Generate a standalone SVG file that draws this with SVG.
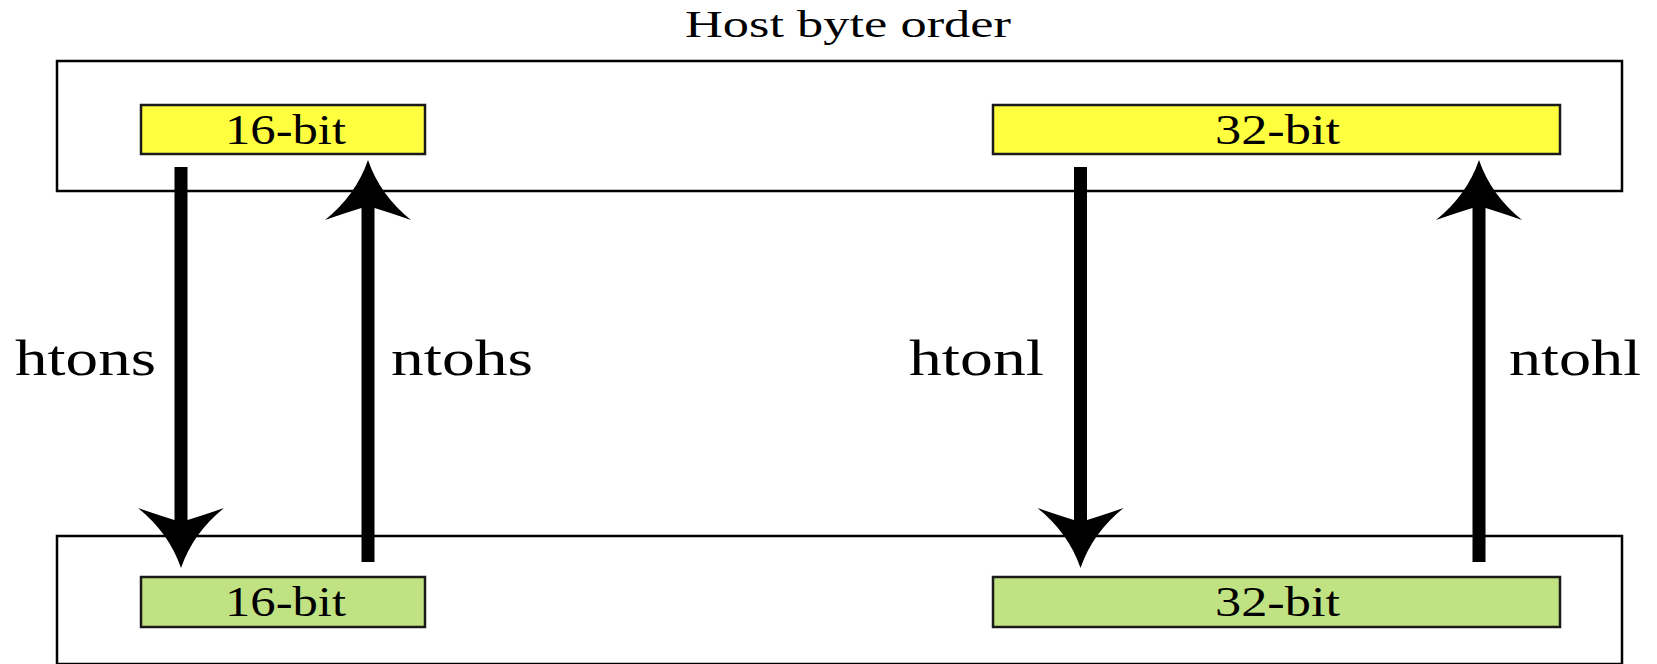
<svg xmlns="http://www.w3.org/2000/svg" width="1657" height="664" viewBox="0 0 1657 664">
  <style>
    .frame { fill: #ffffff; stroke: #000000; stroke-width: 2.5; }
    .host { fill: #ffff40; stroke: #1a1a1a; stroke-width: 2.5; }
    .net { fill: #c0e283; stroke: #1a1a1a; stroke-width: 2.5; }
    .txt { font-family: "Liberation Serif", "Times New Roman", serif; fill: #000000; }
    .title { font-size: 37px; }
    .cell { font-size: 43px; }
    .label { font-size: 50px; }
    .conv { stroke: #000000; stroke-width: 13; fill: none; marker-end: url(#head); }
  </style>
  <defs>
    <!-- curved-sided arrowhead, pointing along +x, notch at x=14 -->
    <marker id="head" markerUnits="userSpaceOnUse" markerWidth="62" markerHeight="90" viewBox="0 -45 62 90" refX="14" refY="0" orient="auto" overflow="visible">
      <path d="M60,0 Q25,-12 0,-43 Q8,-20 14,0 Q8,20 0,43 Q25,12 60,0 Z" fill="#000000"/>
    </marker>
  </defs>

  <rect width="1657" height="664" fill="#ffffff"/>

  <!-- host byte order area -->
  <g id="host-area">
    <text class="txt title" x="685" y="37" textLength="326" lengthAdjust="spacingAndGlyphs">Host byte order</text>
    <rect class="frame" x="57" y="61" width="1565" height="130"/>
  </g>
  <g id="host-16">
    <rect class="host" x="141" y="105" width="284" height="49"/>
    <text class="txt cell" x="225" y="144" textLength="121" lengthAdjust="spacingAndGlyphs">16-bit</text>
  </g>
  <g id="host-32">
    <rect class="host" x="993" y="105" width="567" height="49"/>
    <text class="txt cell" x="1215" y="144" textLength="125" lengthAdjust="spacingAndGlyphs">32-bit</text>
  </g>

  <!-- network byte order area -->
  <g id="net-area">
    <rect class="frame" x="57" y="536" width="1565" height="128"/>
  </g>
  <g id="net-16">
    <rect class="net" x="141" y="577" width="284" height="50"/>
    <text class="txt cell" x="225" y="616" textLength="121" lengthAdjust="spacingAndGlyphs">16-bit</text>
  </g>
  <g id="net-32">
    <rect class="net" x="993" y="577" width="567" height="50"/>
    <text class="txt cell" x="1215" y="616" textLength="125" lengthAdjust="spacingAndGlyphs">32-bit</text>
  </g>

  <!-- conversion arrows -->
  <g id="connectors">
    <line class="conv" x1="181" y1="167" x2="181" y2="522"/>
    <line class="conv" x1="368" y1="562" x2="368" y2="206"/>
    <line class="conv" x1="1080.5" y1="167" x2="1080.5" y2="522"/>
    <line class="conv" x1="1479" y1="562" x2="1479" y2="206"/>
    <text class="txt label" x="15" y="375" textLength="141" lengthAdjust="spacingAndGlyphs">htons</text>
    <text class="txt label" x="391" y="375" textLength="142" lengthAdjust="spacingAndGlyphs">ntohs</text>
    <text class="txt label" x="909" y="375" textLength="135" lengthAdjust="spacingAndGlyphs">htonl</text>
    <text class="txt label" x="1509" y="375" textLength="132" lengthAdjust="spacingAndGlyphs">ntohl</text>
  </g>
</svg>
